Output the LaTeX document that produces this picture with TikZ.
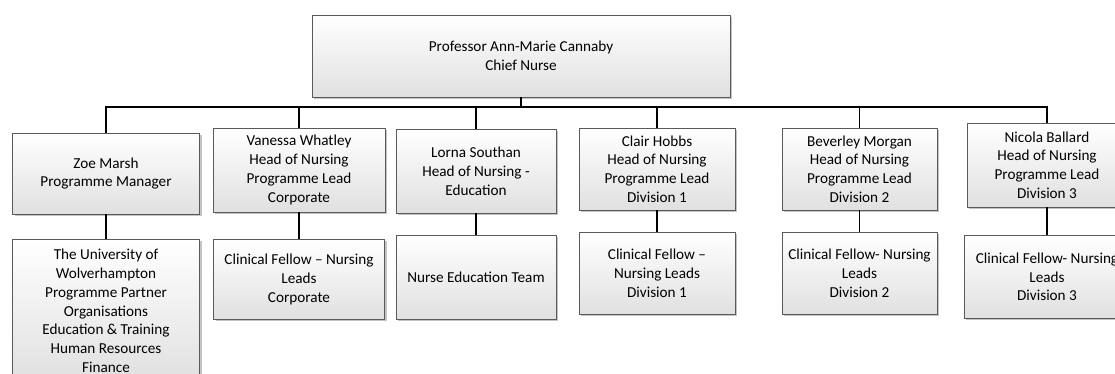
\documentclass[tikz,border=0pt]{standalone}
\usepackage{fontspec}
\setmainfont{Carlito}
\usepackage{xcolor}
\usetikzlibrary{positioning,shadows}
\definecolor{ChartEdge}{HTML}{5A5A5A}
\definecolor{ChartShade}{HTML}{E0E0E0}
\definecolor{ChartShadow}{HTML}{C4C4C4}
\tikzset{
  orgbox/.style={
    draw=ChartEdge,
    top color=white,
    bottom color=ChartShade,
    drop shadow={shadow xshift=2pt,shadow yshift=-2pt,fill=ChartShadow,opacity=1},
    align=center,
    inner sep=2pt,
    font=\fontsize{15.2}{18.8}\selectfont
  },
  orglink/.style={line width=1.6pt,draw=black}
}

\begin{document}
\begin{tikzpicture}[x=1pt,y=-1pt]
    \clip (0,0) rectangle (1115,374);

    \node[orgbox,minimum width=418pt,minimum height=82pt] at (521,56) (nurse) {Professor Ann-Marie Cannaby\\Chief Nurse};

    \node[orgbox,minimum width=187pt,minimum height=81pt] at (106,173.5) (zoe) {Zoe Marsh\\Programme Manager};
    \node[orgbox,minimum width=172pt,minimum height=84pt] at (299,170) (vanessa) {Vanessa Whatley\\Head of Nursing\\Programme Lead\\Corporate};
    \node[orgbox,minimum width=160pt,minimum height=84pt] at (476,171) (lorna) {Lorna Southan\\Head of Nursing -\\Education};
    \node[orgbox,minimum width=156pt,minimum height=82pt] at (657,169) (clair) {Clair Hobbs\\Head of Nursing\\Programme Lead\\Division 1};
    \node[orgbox,minimum width=155pt,minimum height=82pt] at (859.5,169) (beverley) {Beverley Morgan\\Head of Nursing\\Programme Lead\\Division 2};
    \node[orgbox,minimum width=160pt,minimum height=84pt] at (1047,165) (nicola) {Nicola Ballard\\Head of Nursing\\Programme Lead\\Division 3};

    \node[orgbox,minimum width=187pt,minimum height=143pt,below=25pt of zoe] (uni) {The University of\\Wolverhampton\\Programme Partner\\Organisations\\Education \& Training\\Human Resources\\Finance};
    \node[orgbox,minimum width=171pt,minimum height=80pt,below=27pt of vanessa] (corpfellow) {Clinical Fellow – Nursing\\Leads\\Corporate};
    \node[orgbox,minimum width=160pt,minimum height=84pt,below=22pt of lorna] (eduteam) {Nurse Education Team};
    \node[orgbox,minimum width=156pt,minimum height=82pt,below=22pt of clair] (divonefellow) {Clinical Fellow –\\Nursing Leads\\Division 1};
    \node[orgbox,minimum width=155pt,minimum height=82pt,below=22pt of beverley] (divtwofellow) {Clinical Fellow- Nursing\\Leads\\Division 2};
    \node[orgbox,minimum width=166pt,minimum height=83pt,below=28pt of nicola] (divthreefellow) {Clinical Fellow- Nursing\\Leads\\Division 3};

    % bus line under the chief nurse
    \coordinate (bus) at (521,107);
    \draw[orglink] (nurse.south) -- (bus);
    \foreach \lead in {zoe,vanessa,lorna,clair,beverley,nicola}
      \draw[orglink] (\lead.north) |- (bus);

    \draw[orglink] (zoe) -- (uni);
    \draw[orglink] (vanessa) -- (corpfellow);
    \draw[orglink] (lorna) -- (eduteam);
    \draw[orglink] (clair) -- (divonefellow);
    \draw[orglink] (beverley) -- (divtwofellow);
    \draw[orglink] (nicola) -- (divthreefellow);
  \end{tikzpicture}
\end{document}
